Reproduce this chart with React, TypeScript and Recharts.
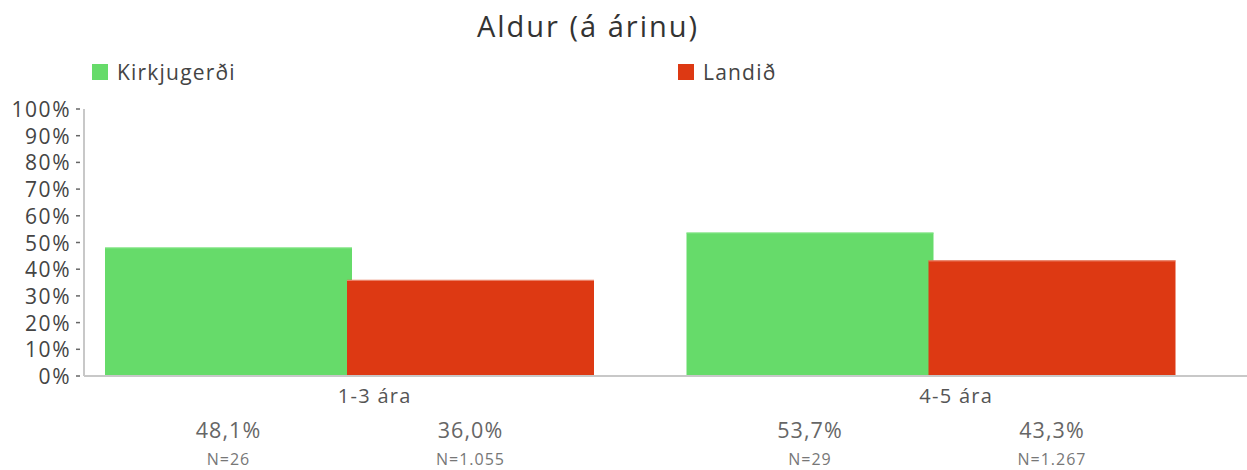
import React from 'react';
import { BarChart, Bar, XAxis, YAxis } from 'recharts';

const categories = ['1-3 ára', '4-5 ára'];
const kirkjugerdi = [48.1, 53.7];
const landid = [36.0, 43.3];
const kirkjugerdiN = [26, 29];
const landidN = [1055, 1267];
const yTicks = [0, 10, 20, 30, 40, 50, 60, 70, 80, 90, 100];

const series = [
  { key: 'kirkjugerdi', nKey: 'kirkjugerdiN', name: 'Kirkjugerði', color: '#66db6a', edge: '#7fe582' },
  { key: 'landid', nKey: 'landidN', name: 'Landið', color: '#dd3913', edge: '#ec8a73' },
];

const rows = categories.map((name, i) => ({
  name,
  kirkjugerdi: kirkjugerdi[i],
  landid: landid[i],
  kirkjugerdiN: kirkjugerdiN[i],
  landidN: landidN[i],
}));

const FONT = '"Open Sans", Lato, sans-serif';
const W = 1247;
const H = 470;
// bars sit a bit left of the band centre in the original
const SHIFT = -25;

const pct = (v: number) => v.toFixed(1).replace('.', ',') + '%';
const nFmt = (n: number) => 'N=' + String(n).replace(/\B(?=(\d{3})+(?!\d))/g, '.');

function makeShape(valueKey: string, nKey: string, edge: string) {
  return (props: any) => {
    const { x, y, width, height, fill, payload } = props;
    const bx = x + SHIFT;
    const bottom = y + height;
    const cx = bx + width / 2;
    return (
      <g>
        <rect x={bx} y={y} width={width} height={height} fill={fill} />
        <line x1={bx} y1={y + 0.5} x2={bx + width} y2={y + 0.5} stroke={edge} strokeWidth={1} />
        <text x={cx} y={bottom + 53} textAnchor="middle" dominantBaseline="central"
          fill="#666" fontSize={21.5} letterSpacing={1.1} fontFamily={FONT}>
          {pct(payload[valueKey])}
        </text>
        <text x={cx} y={bottom + 83} textAnchor="middle" dominantBaseline="central"
          fill="#777" fontSize={16} letterSpacing={1} fontFamily={FONT}>
          {nFmt(payload[nKey])}
        </text>
      </g>
    );
  };
}

const YTick = (props: any) => {
  const { x, y, payload } = props;
  return (
    <g>
      <line x1={x} y1={y} x2={x + 4} y2={y} stroke="#666" strokeWidth={1.5} />
      <text x={x - 5} y={y} textAnchor="end" dominantBaseline="central"
        fill="#444" fontSize={21} letterSpacing={1.5} fontFamily={FONT}>
        {payload.value}%
      </text>
    </g>
  );
};

const CatTick = (props: any) => {
  const { x, y, payload } = props;
  return (
    <text x={x} y={y + 11} textAnchor="middle" dominantBaseline="central"
      fill="#555" fontSize={20} letterSpacing={1.3} fontFamily={FONT}>
      {payload.value}
    </text>
  );
};

export default function App() {
  return (
    <div style={{ position: 'relative', width: W, height: H, fontFamily: FONT, background: '#fff' }}>
      <style>{'body{margin:0}'}</style>
      <div style={{ position: 'absolute', left: 0, width: 1176, top: 6, textAlign: 'center', fontSize: 29, letterSpacing: 2, color: '#333' }}>
        Aldur (á árinu)
      </div>
      {series.map((s, i) => (
        <div key={s.key} style={{ position: 'absolute', left: 92 + i * 586, top: 58, display: 'flex', alignItems: 'center', fontSize: 21, letterSpacing: 1.2, color: '#444' }}>
          <span style={{ display: 'inline-block', width: 16, height: 16, background: s.color, marginRight: 9 }} />
          {s.name}
        </div>
      ))}
      <BarChart width={W} height={H} data={rows} margin={{ top: 109, right: 0, left: 0, bottom: 0 }}
        barGap={-5} barSize={247}>
        <XAxis dataKey="name" height={94} tickLine={false} tick={CatTick}
          axisLine={{ stroke: '#c8c8c8', strokeWidth: 2 }} />
        <YAxis width={84} domain={[0, 100]} ticks={yTicks} interval={0} tickLine={false} tick={YTick}
          axisLine={{ stroke: '#c8c8c8', strokeWidth: 2 }} />
        {series.map((s) => (
          <Bar key={s.key} dataKey={s.key} name={s.name} fill={s.color} isAnimationActive={false}
            shape={makeShape(s.key, s.nKey, s.edge)} />
        ))}
      </BarChart>
    </div>
  );
}
